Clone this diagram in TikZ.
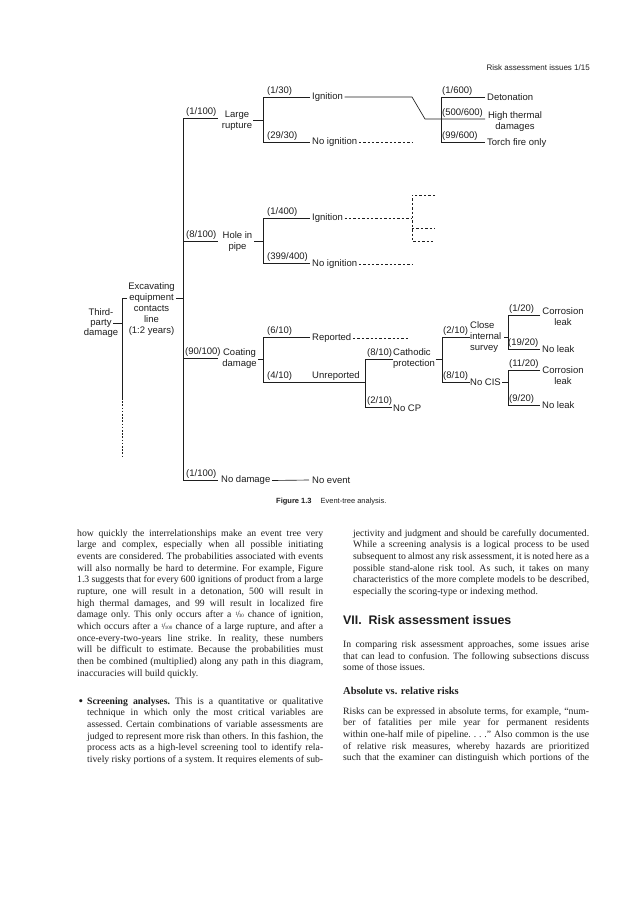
\documentclass[tikz,border=0pt]{standalone}
\usepackage{fontspec}
\setmainfont{Liberation Serif}
\newfontfamily\sansf{Liberation Sans}
\definecolor{ink}{HTML}{1E1E1E}
\newcommand\trf{\sansf\fontsize{9.5}{11}\selectfont}
\newcommand\bodyf{\fontsize{9.7}{11.67}\selectfont}
\newcommand\jline[2]{\hbox to #1{#2}}
\newcommand\eline[2]{\hbox to #1{#2\hfil}}
\newcommand\sfr[2]{\raisebox{.45ex}{\tiny #1}\kern-.08em/\kern-.08em{\tiny #2}}
\newlength\colw \setlength\colw{246pt}
\newlength\bulw \setlength\bulw{236pt}
\newcommand\parblock[1]{\vtop{\bodyf\frenchspacing\lineskiplimit=-100pt\baselineskip=11.67pt #1}}
\tikzset{
  ln/.style={draw=ink, line width=0.65pt},
  dl/.style={draw=ink, line width=0.65pt, dash pattern=on 2.4pt off 2pt},
  dt/.style={draw=ink, line width=0.65pt, dash pattern=on 1.6pt off 1.6pt},
  lab/.style={anchor=south west, inner sep=0pt, font=\trf, text=ink},
  tx/.style={anchor=west, inner sep=0pt, font=\trf, text=ink},
  mt/.style={inner sep=0pt, font=\trf, text=ink, align=center},
  ml/.style={anchor=west, inner sep=0pt, font=\trf, text=ink, align=left},
  body/.style={anchor=base west, inner sep=0pt, text=ink},
}
\begin{document}
\begin{tikzpicture}[x=1pt,y=-1pt]
\useasboundingbox (0,0) rectangle (638,900);
\fill[white] (0,0) rectangle (638,900);

% header
\node[anchor=base east, inner sep=0pt, text=ink, font=\sansf\fontsize{8}{9}\selectfont] (hdr) at (590,70) {Risk assessment issues 1/15};

% ---------- tree: root ----------
\node[mt, font=\sansf\fontsize{9.5}{10}\selectfont] (root) at (101,323) {Third-\\party\\damage};
\node[mt] (exc) at (151.5,309) {Excavating\\equipment\\contacts\\line\\(1:2 years)};
\coordinate (Atop) at (122,298);
\coordinate (Aroot) at (122,323);
\coordinate (Asol) at (122,398);
\coordinate (Abot) at (122,457);
\draw[ln] (root.center) ++(12,0) -- (Aroot);
\draw[ln] (127,298) -- (Atop) -- (Asol);
\draw[dt] (Asol) -- (Abot);
\coordinate (B1) at (183,118);
\coordinate (B2) at (183,241);
\coordinate (B3) at (183,358);
\coordinate (B4) at (183,480);
\draw[ln] (176,298) -- (183,298);
\draw[ln] (218,118) -- (B1) -- (B4) -- (218,480);
\draw[ln] (B2) -- (218,241);
\draw[ln] (B3) -- (218,358);

% ---------- large rupture ----------
\node[lab] (p1) at (186,116.5) {(1/100)};
\node[mt] (lr) at (237,120.5) {Large\\rupture};
\coordinate (C1) at (263,120);
\draw[ln] (253,120) -- (C1);
\draw[ln] (310,97) -- (263,97) -- (263,142) -- (310,142);
\node[lab] (p2) at (267,95.5) {(1/30)};
\node[tx] (ig1) at (312,97) {Ignition};
\node[lab] (p3) at (267,140.5) {(29/30)};
\node[tx] (ni1) at (312,142.5) {No ignition};
\coordinate (K1) at (412,97);
\coordinate (K2) at (425,119);
\draw[ln] (ig1.east) ++(1.5,0) -- (K1) -- (K2) -- (485,119);
\draw[dl] (ni1.east) ++(1.5,0) -- (412,142.5);
\draw[ln] (485,97) -- (441,97) -- (441,142) -- (485,142);
\node[lab] (p4) at (442,95.5) {(1/600)};
\node[tx] (det) at (487,97.5) {Detonation};
\node[lab] (p5) at (442,117.5) {(500/600)};
\node[mt] (ht) at (515,121.5) {High thermal\\damages};
\node[lab] (p6) at (442,140.5) {(99/600)};
\node[tx] (tf) at (487,143) {Torch fire only};

% ---------- hole in pipe ----------
\node[lab] (p7) at (186,239.5) {(8/100)};
\node[mt] (hip) at (237.5,241.5) {Hole in\\pipe};
\draw[ln] (254,241) -- (263,241);
\draw[ln] (310,218) -- (263,218) -- (263,263) -- (310,263);
\node[lab] (p8) at (267,216.5) {(1/400)};
\node[tx] (ig2) at (312,218) {Ignition};
\node[lab] (p9) at (267,261.5) {(399/400)};
\node[tx] (ni2) at (312,264) {No ignition};
\draw[dl] (ig2.east) ++(1.5,0) -- (412,218);
\draw[dl] (ni2.east) ++(1.5,0) -- (412,264);
\draw[dl] (435,195) -- (412,195) -- (412,241) -- (435,241);
\draw[dl] (412,228) -- (435,228);

% ---------- coating damage ----------
\node[lab] (p10) at (185,356.5) {(90/100)};
\node[mt] (cd) at (239.5,359) {Coating\\damage};
\draw[ln] (258,359) -- (263,359);
\draw[ln] (310,337) -- (263,337) -- (263,382) -- (365,382);
\node[lab] (p11) at (267,335.5) {(6/10)};
\node[tx] (rep) at (312,338) {Reported};
\draw[dl] (rep.east) ++(1.5,0) -- (408,338);
\node[lab] (p12) at (267,380.5) {(4/10)};
\node[lab] (unr) at (312,381) {Unreported};
\draw[ln] (393,359) -- (365,359) -- (365,407) -- (392,407);
\node[lab] (p13) at (367,357.5) {(8/10)};
\node[ml] (cp) at (393,359) {Cathodic\\protection};
\node[lab] (p14) at (367,405.5) {(2/10)};
\node[tx] (ncp) at (393,408) {No CP};
\draw[ln] (cp.east) ++(0.5,0) -- (442,359);
\draw[ln] (470,337) -- (442,337) -- (442,382) -- (470,382);
\node[lab] (p15) at (443,335.5) {(2/10)};
\node[ml] (cis) at (470,337) {Close\\internal\\survey};
\node[lab] (p16) at (443,380.5) {(8/10)};
\node[tx] (ncis) at (470,382) {No CIS};
\draw[ln] (504,337) -- (508,337);
\draw[ln] (ncis.east) ++(1,0) -- (508,382);
\draw[ln] (540,315) -- (508,315) -- (508,349) -- (540,349);
\draw[ln] (540,370) -- (508,370) -- (508,405) -- (540,405);
\node[lab] (p17) at (509,313.5) {(1/20)};
\node[mt] (cl1) at (563,316.5) {Corrosion\\leak};
\node[lab] (p18) at (508,347.5) {(19/20)};
\node[tx] (nl1) at (542,349.5) {No leak};
\node[lab] (p19) at (509,368.5) {(11/20)};
\node[mt] (cl2) at (563,376) {Corrosion\\leak};
\node[lab] (p20) at (509,403.5) {(9/20)};
\node[tx] (nl2) at (542,405.5) {No leak};

% ---------- no damage ----------
\node[lab] (p21) at (186,478.5) {(1/100)};
\node[tx] (nd) at (221,480.5) {No damage};
\node[tx] (ne) at (312,480.5) {No event};
\draw[ln] (nd.east) ++(1.5,0) -- (309,480);

% caption
\node[anchor=base west, inner sep=0pt, text=ink, font=\sansf\fontsize{7.5}{9}\selectfont] (cap) at (276,503) {\textbf{Figure 1.3}\hspace{9pt}Event-tree analysis.};

% ---------- body text ----------
\node[body] (lpar) at (77,536) {\parblock{%
\jline\colw{how quickly the interrelationships make an event tree very}
\jline\colw{large and complex, especially when all possible initiating}
\jline\colw{events are considered. The probabilities associated with events}
\jline\colw{will also normally be hard to determine. For example, Figure}
\jline\colw{1.3 suggests that for every 600 ignitions of product from a large}
\jline\colw{rupture, one will result in a detonation, 500 will result in}
\jline\colw{high thermal damages, and 99 will result in localized fire}
\jline\colw{damage only. This only occurs after a \sfr{1}{30} chance of ignition,}
\jline\colw{which occurs after a \sfr{1}{100} chance of a large rupture, and after a}
\jline\colw{once-every-two-years line strike. In reality, these numbers}
\jline\colw{will be difficult to estimate. Because the probabilities must}
\jline\colw{then be combined (multiplied) along any path in this diagram,}
\eline\colw{inaccuracies will build quickly.}}};

\node[body, font=\fontsize{13}{13}\selectfont] (bul) at (78.5,705) {\textbullet};
\node[body] (bpar) at (87,704) {\parblock{%
\jline\bulw{\textbf{Screening analyses.} This is a quantitative or qualitative}
\jline\bulw{technique in which only the most critical variables are}
\jline\bulw{assessed. Certain combinations of variable assessments are}
\jline\bulw{judged to represent more risk than others. In this fashion, the}
\jline\bulw{process acts as a high-level screening tool to identify rela-}
\jline\bulw{tively risky portions of a system. It requires elements of sub-}}};

\node[body] (rpar) at (353,536) {\parblock{%
\jline\bulw{jectivity and judgment and should be carefully documented.}
\jline\bulw{While a screening analysis is a logical process to be used}
\jline\bulw{subsequent to almost any risk assessment, it is noted here as a}
\jline\bulw{possible stand-alone risk tool. As such, it takes on many}
\jline\bulw{characteristics of the more complete models to be described,}
\eline\bulw{especially the scoring-type or indexing method.}}};

\node[body, font=\sansf\bfseries\fontsize{12.4}{14}\selectfont] (head) at (343,624.5) {VII.\ \ Risk assessment issues};

\node[body] (rpar2) at (343,647.5) {\parblock{%
\jline\colw{In comparing risk assessment approaches, some issues arise}
\jline\colw{that can lead to confusion. The following subsections discuss}
\eline\colw{some of those issues.}}};

\node[body, font=\bfseries\fontsize{10.5}{12}\selectfont] (sub) at (343,694.5) {Absolute vs. relative risks};

\node[body] (rpar3) at (343,714) {\parblock{%
\jline\colw{Risks can be expressed in absolute terms, for example, “num-}
\jline\colw{ber of fatalities per mile year for permanent residents}
\jline\colw{within one-half mile of pipeline. . . .” Also common is the use}
\jline\colw{of relative risk measures, whereby hazards are prioritized}
\jline\colw{such that the examiner can distinguish which portions of the}}};
\end{tikzpicture}
\end{document}
